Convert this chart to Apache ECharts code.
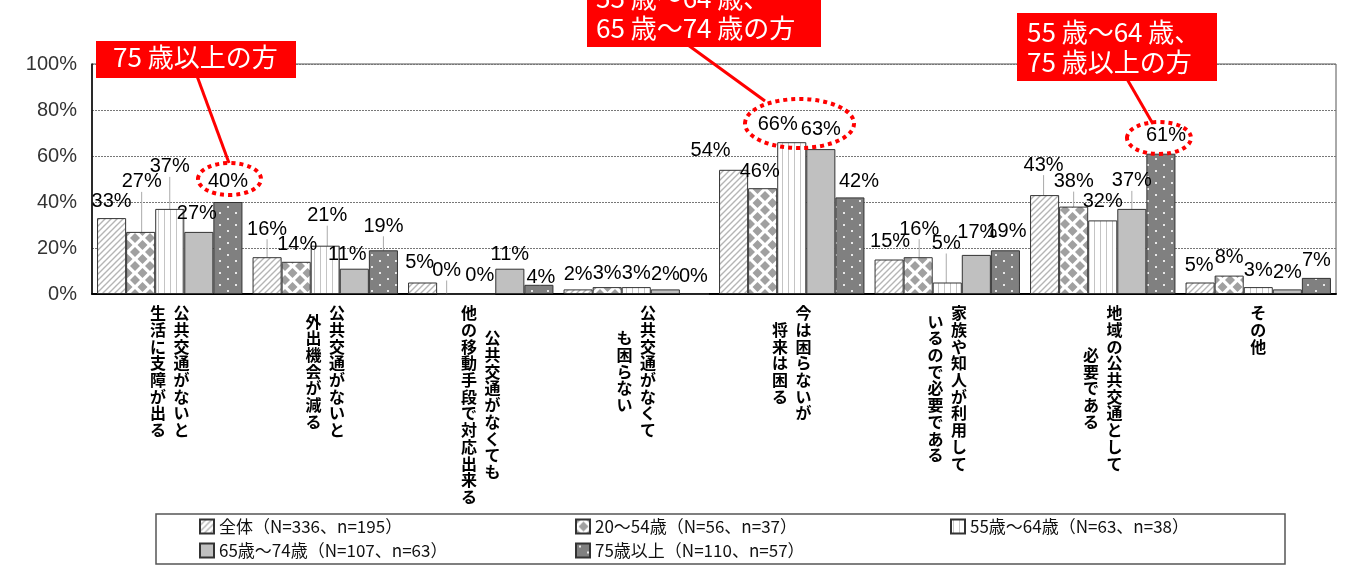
<!DOCTYPE html>
<html>
<head>
<meta charset="utf-8">
<script src="https://cdn.jsdelivr.net/npm/echarts@6/dist/echarts.min.js"></script>
<style>
  html, body { margin: 0; padding: 0; background: #fff; }
  #chart { width: 1354px; height: 566px; }
</style>
</head>
<body>
<div id="chart"></div>
<script>
// categories: first line = right column, second line = left column (vertical writing)
const categories = [
  '公共交通がないと\n生活に支障が出る',
  '公共交通がないと\n外出機会が減る',
  '公共交通がなくても\n他の移動手段で対応出来る',
  '公共交通がなくて\nも困らない',
  '今は困らないが\n将来は困る',
  '家族や知人が利用して\nいるので必要である',
  '地域の公共交通として\n必要である',
  'その他'
]
const seriesNames = [
  '全体（N=336、n=195）',
  '20～54歳（N=56、n=37）',
  '55歳～64歳（N=63、n=38）',
  '65歳～74歳（N=107、n=63）',
  '75歳以上（N=110、n=57）'
]
const allValues = [33, 16, 5, 2, 54, 15, 43, 5]
const age20to54 = [27, 14, 0, 3, 46, 16, 38, 8]
const age55to64 = [37, 21, 0, 3, 66, 5, 32, 3]
const age65to74 = [27, 11, 11, 2, 63, 17, 37, 2]
const age75plus = [40, 19, 4, 0, 42, 19, 61, 7]
const yTicks = [0, 20, 40, 60, 80, 100]

// manual label nudges (px), like the hand-placed labels of the original
const labelNudgeX = [
  [0, 0, -3, 0, -23, 1, -1, -1],
  [1, 1, -5, 0, -3, 1, 0, 0],
  [0, 2, -1, 0, -14, -1, 0, 0],
  [-2, -7, 0, 0, 0, 1, 0, 0],
  [0, 0, 2, -1, 9, 1, 5, 0]
]
const labelNudgeY = [
  [-3, -14, -6, -1, -5, -4, -16, -3],
  [-36, -3, -9, 0, -3, -14, -11, -4],
  [-28, -16, -4, 0, -4, -25, -5, -3],
  [-4, 0, 0, -1, -6, -8, -14, -3],
  [-7, -10, 7, -3, -2, -5, -4, -3]
]

function makePattern(kind) {
  const c = document.createElement('canvas')
  const ctx = c.getContext('2d')
  if (kind === 'hatch') {
    c.width = 6; c.height = 6
    ctx.fillStyle = '#fff'; ctx.fillRect(0, 0, 6, 6)
    ctx.strokeStyle = '#b5b5b5'; ctx.lineWidth = 1.4
    ctx.beginPath()
    ctx.moveTo(-1, 7); ctx.lineTo(7, -1)
    ctx.moveTo(-1, 1); ctx.lineTo(1, -1)
    ctx.moveTo(5, 7); ctx.lineTo(7, 5)
    ctx.stroke()
  } else if (kind === 'diamond') {
    c.width = 15; c.height = 14
    ctx.fillStyle = '#fff'; ctx.fillRect(0, 0, 15, 14)
    ctx.fillStyle = '#a0a0a0'
    const d = (x, y) => {
      ctx.beginPath()
      ctx.moveTo(x, y - 5); ctx.lineTo(x + 5, y); ctx.lineTo(x, y + 5); ctx.lineTo(x - 5, y)
      ctx.closePath(); ctx.fill()
    }
    d(7.5, 7); d(0, 0); d(15, 0); d(0, 14); d(15, 14)
  } else if (kind === 'vline') {
    c.width = 6; c.height = 4
    ctx.fillStyle = '#fff'; ctx.fillRect(0, 0, 6, 4)
    ctx.fillStyle = '#c4c4c4'; ctx.fillRect(2, 0, 1, 4)
  } else if (kind === 'dots') {
    c.width = 16; c.height = 12
    ctx.fillStyle = '#808080'; ctx.fillRect(0, 0, 16, 12)
    ctx.fillStyle = '#e8e8e8'
    ctx.fillRect(3, 2, 2, 2); ctx.fillRect(11, 8, 2, 2)
  }
  return { image: c, repeat: 'repeat' }
}

const fills = [
  makePattern('hatch'),
  makePattern('diamond'),
  makePattern('vline'),
  '#c0c0c0',
  makePattern('dots')
]

// stack the characters of each line vertically; columns run right to left
function verticalLabel(name) {
  const cols = name.split('\n').map(s => Array.from(s))
  const maxLen = Math.max(...cols.map(c => c.length))
  const offs = cols.map(c => maxLen - c.length) // centred, in half steps
  const order = cols.slice().reverse()
  const orderOffs = offs.slice().reverse()
  const lines = []
  for (let r = 0; r < maxLen * 2; r++) {
    const parts = order.map((col, i) => {
      const k = (r - orderOffs[i]) / 2
      return Number.isInteger(k) && k >= 0 && k < col.length ? col[k] : '　'
    })
    lines.push(parts.join('  '))
  }
  return lines.join('\n')
}

const seriesData = [allValues, age20to54, age55to64, age65to74, age75plus]

const legendText = {
  fontFamily: '"Noto Sans CJK JP", sans-serif', fontSize: 17, color: '#111'
}
const legendBase = {
  top: 518, padding: 0, orient: 'vertical',
  itemWidth: 14, itemHeight: 14, itemGap: 7, icon: 'rect',
  textStyle: legendText
}

const chart = echarts.init(document.getElementById('chart'))

const option = {
  animation: false,
  grid: {
    left: 92, right: 18, top: 64, bottom: 272,
    show: true, borderColor: '#555', borderWidth: 1
  },
  legend: [
    Object.assign({}, legendBase, { left: 199, data: [seriesNames[0], seriesNames[3]] }),
    Object.assign({}, legendBase, { left: 575, data: [seriesNames[1], seriesNames[4]] }),
    Object.assign({}, legendBase, { left: 950, data: [seriesNames[2]] })
  ],
  xAxis: {
    type: 'category',
    data: categories,
    axisTick: { show: false },
    axisLine: { lineStyle: { color: '#000', width: 2 } },
    axisLabel: {
      interval: 0,
      margin: 15,
      fontFamily: '"Noto Sans CJK JP", sans-serif',
      fontSize: 16,
      fontWeight: 'bold',
      lineHeight: 8.35,
      color: '#000',
      formatter: verticalLabel
    }
  },
  yAxis: {
    type: 'value',
    min: yTicks[0], max: yTicks[yTicks.length - 1], interval: 20,
    axisLine: { show: true, lineStyle: { color: '#000', width: 1.5 } },
    axisTick: { show: false },
    axisLabel: {
      margin: 15,
      fontFamily: '"Liberation Sans", Arial, sans-serif',
      fontSize: 20,
      color: '#333',
      formatter: '{value}%'
    },
    splitLine: { lineStyle: { color: '#777', type: [2, 1], width: 1 } }
  },
  series: seriesData.map((vals, si) => ({
    name: seriesNames[si],
    type: 'bar',
    barGap: '0%',
    barCategoryGap: '6.5%',
    itemStyle: { color: fills[si], borderColor: '#333', borderWidth: 1 },
    label: {
      show: true,
      position: 'top',
      distance: 4,
      fontFamily: '"Liberation Sans", Arial, sans-serif',
      fontSize: 20,
      color: '#000',
      formatter: '{c}%'
    },
    labelLine: { lineStyle: { color: '#aaa', width: 1 } },
    labelLayout: p => ({ dx: labelNudgeX[si][p.dataIndex], dy: labelNudgeY[si][p.dataIndex] }),
    data: vals.map((v, ci) => ({
      value: v,
      labelLine: { show: labelNudgeY[si][ci] <= -9 }
    }))
  })),
  graphic: [
    // legend frame
    { type: 'rect', shape: { x: 156, y: 514, width: 1129, height: 50 },
      style: { fill: 'none', stroke: '#555', lineWidth: 1.5 }, silent: true },
    // callout 1
    { type: 'line', z: 100, shape: { x1: 197, y1: 76, x2: 229, y2: 163 },
      style: { stroke: '#ff0000', lineWidth: 3 } },
    { type: 'rect', z: 100, shape: { x: 96, y: 41, width: 200, height: 37 },
      style: { fill: '#ff0000' } },
    { type: 'text', z: 101, x: 113, y: 44,
      style: { text: '75 歳以上の方', fill: '#fff', font: '26px "Noto Sans CJK JP", sans-serif' } },
    { type: 'ellipse', z: 100, shape: { cx: 229.5, cy: 179, rx: 31.5, ry: 16 },
      style: { fill: 'none', stroke: '#ff0000', lineWidth: 4, lineDash: [4, 4] } },
    // callout 2
    { type: 'line', z: 100, shape: { x1: 688, y1: 45, x2: 765, y2: 101 },
      style: { stroke: '#ff0000', lineWidth: 3 } },
    { type: 'rect', z: 100, shape: { x: 587, y: -21, width: 234, height: 68 },
      style: { fill: '#ff0000' } },
    { type: 'text', z: 101, x: 596, y: -17,
      style: { text: '55 歳～64 歳、\n65 歳～74 歳の方', fill: '#fff', lineHeight: 30,
        font: '26px "Noto Sans CJK JP", sans-serif' } },
    { type: 'ellipse', z: 100, shape: { cx: 799.5, cy: 123.5, rx: 54.5, ry: 24.5 },
      style: { fill: 'none', stroke: '#ff0000', lineWidth: 4, lineDash: [4, 4] } },
    // callout 3
    { type: 'line', z: 100, shape: { x1: 1127, y1: 79, x2: 1153, y2: 124 },
      style: { stroke: '#ff0000', lineWidth: 3 } },
    { type: 'rect', z: 100, shape: { x: 1017, y: 13, width: 200, height: 68 },
      style: { fill: '#ff0000' } },
    { type: 'text', z: 101, x: 1027, y: 17,
      style: { text: '55 歳～64 歳、\n75 歳以上の方', fill: '#fff', lineHeight: 30,
        font: '26px "Noto Sans CJK JP", sans-serif' } },
    { type: 'ellipse', z: 100, shape: { cx: 1159, cy: 138, rx: 32, ry: 16 },
      style: { fill: 'none', stroke: '#ff0000', lineWidth: 4, lineDash: [4, 4] } }
  ]
}

chart.setOption(option)
</script>
</body>
</html>
